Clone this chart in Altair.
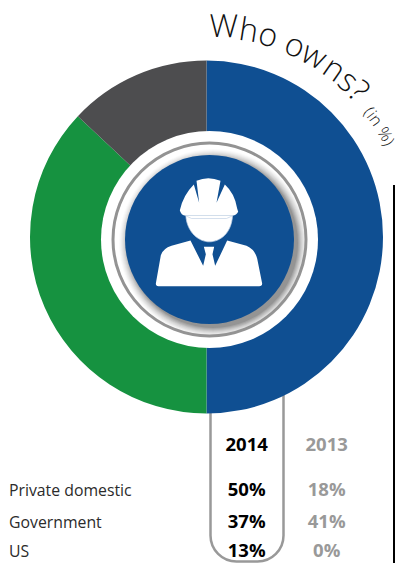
import math
import altair as alt

categories = ["Private domestic", "Government", "US"]
share_2014 = [50, 37, 13]
share_2013 = [18, 41, 0]
pie_colors = ["#0F4F92", "#169240", "#4D4D4F"]
title_main = "Who owns?"
title_sub = "(in %)"
years = ["2014", "2013"]

M = 8   # page margin


def X(v):
    return v - M


CX, CY = X(206.5), X(237)
IX, IY = X(209.5), X(239.5)
FONT = "Open Sans"
ROW_Y = [496, 528, 557]
COL14, COL13 = 246.7, 326.7

rows = [{"cat": c, "a": a, "b": b, "i": i}
        for i, (c, a, b) in enumerate(zip(categories, share_2014, share_2013))]
data = alt.Data(values=rows)
one = alt.Data(values=[{"k": 1}])


def circle(r, cx=IX, cy=IY, **kw):
    return alt.Chart(one).mark_point(size=(2 * r) ** 2, shape="circle", **kw).encode(
        x=alt.value(cx), y=alt.value(cy))


def spaced(text, start_deg, size, adv, radius=200, **kw):
    out = []
    pos = 0.0
    for ch in text:
        w = adv.get(ch, 0.58) * size
        th = start_deg + math.degrees(pos / radius)
        t = math.radians(th)
        out.append(alt.Chart(one).mark_text(
            text=ch, angle=th % 360, align="left", baseline="alphabetic",
            font=FONT, fontSize=size, **kw).encode(
            x=alt.value(CX + radius * math.sin(t)),
            y=alt.value(CY - radius * math.cos(t))))
        pos += w
    return out


def label(text, x, y, align="center", size=18.5, color="#000000", weight=700):
    return alt.Chart(one).mark_text(
        text=text, align=align, baseline="alphabetic", font=FONT, fontSize=size,
        color=color, fontWeight=weight).encode(x=alt.value(X(x)), y=alt.value(X(y)))


adv = {"W": 0.89, "h": 0.6, "o": 0.58, " ": 0.27, "w": 0.78, "n": 0.6, "s": 0.46,
       "?": 0.46, "(": 0.3, "i": 0.24, "%": 0.8, ")": 0.3}

capsule = alt.Chart(one).mark_rect(
    fill=None, stroke="#999999", strokeWidth=2.5, cornerRadius=26).encode(
    x=alt.value(X(210.5)), x2=alt.value(X(283.5)),
    y=alt.value(X(340)), y2=alt.value(X(561.5)))

rule = alt.Chart(one).mark_rule(color="#000000", strokeWidth=2).encode(
    x=alt.value(X(394)), y=alt.value(X(185)), y2=alt.value(X(563)))

pie = alt.Chart(data).mark_arc(radius=176.5, radius2=95, stroke=None).encode(
    x=alt.value(CX), y=alt.value(CY),
    theta=alt.Theta("a:Q", stack=True),
    order=alt.Order("i:Q"),
    color=alt.Color("cat:N", legend=None,
                    scale=alt.Scale(domain=categories, range=pie_colors)))

white = circle(108.5, filled=True, color="#FFFFFF", opacity=1)
shadows = [circle(r, IX + 3.5, IY + 3.5, filled=True, color="#000000", opacity=o, strokeWidth=0)
           for r, o in [(94, .02), (93, .025), (92, .03), (91, .035), (90, .04), (89, .05),
                        (88, .06), (87, .07), (86, .08), (85, .10)]]
ring = circle(96.5, filled=False, color="#939393", strokeWidth=3, opacity=1)
disc = circle(84.5, filled=True, color="#0F4F92", opacity=1)

# icon paths, in thirds of a pixel around the disc centre
OX, OY = 329, 328


def P(s):
    out = []
    for t in s.split():
        if "," in t:
            a, b = t.split(",")
            out.append(f"{float(a) - OX:g},{float(b) - OY:g}")
        else:
            out.append(t)
    return " ".join(out)


helmet = P("M 240,240 Q 250,195 282,163 L 298,218 L 290,152 Q 325,136 362,152 L 350,218 L 375,163 "
           "Q 405,190 412,235 L 415,245 Q 410,255 398,257 L 258,257 Q 243,255 240,240 Z")
face = P("M 258,257 C 262,310 300,335 328,335 C 360,335 395,310 398,257 Z")
body = P("M 168,460 L 183,375 Q 190,355 215,347 L 272,331 L 310,407 L 318,372 L 312,350 L 343,350 "
         "L 338,372 L 346,407 L 382,331 L 440,347 Q 465,358 472,385 L 487,460 Q 487,468 478,468 "
         "L 176,468 Q 168,468 168,460 Z")
visor = P("M 258,257 L 275,265 L 380,265 L 398,257 C 395,310 360,335 328,335 C 300,335 262,310 258,257 Z")


def icon(path, **kw):
    return alt.Chart(one).mark_point(shape=path, size=(2 / 3) ** 2, opacity=1, **kw).encode(
        x=alt.value(IX), y=alt.value(IY))


icons = [icon(helmet, filled=True, color="#FFFFFF", strokeWidth=0),
         icon(face, filled=True, color="#FFFFFF", strokeWidth=0),
         icon(body, filled=True, color="#FFFFFF", strokeWidth=0),
         icon(visor, filled=False, color="#C3D3E6", strokeWidth=0.7)]

texts = [label(years[0], COL14, 451), label(years[1], COL13, 451, color="#999999")]
for c, a, b, y in zip(categories, share_2014, share_2013, ROW_Y):
    texts.append(label(c, 9, y, align="left", size=15.8, color="#2B2B2B", weight=400))
    texts.append(label(f"{a}%", COL14, y))
    texts.append(label(f"{b}%", COL13, y, color="#999999"))

parts = [capsule, rule, pie, white] + shadows + [ring, disc] + icons + texts
parts += spaced(title_main, 0.8, 32, adv, color="#111111", fontWeight=300)
parts += spaced(title_sub, 51.5, 16.5, adv, color="#111111", fontWeight=300)

chart = alt.layer(*parts).properties(
    width=387, height=555, padding=0,
    autosize=alt.AutoSizeParams(type="none")
).configure_view(stroke=None)

chart.save("out.html", embed_options={"renderer": "svg", "actions": False})
